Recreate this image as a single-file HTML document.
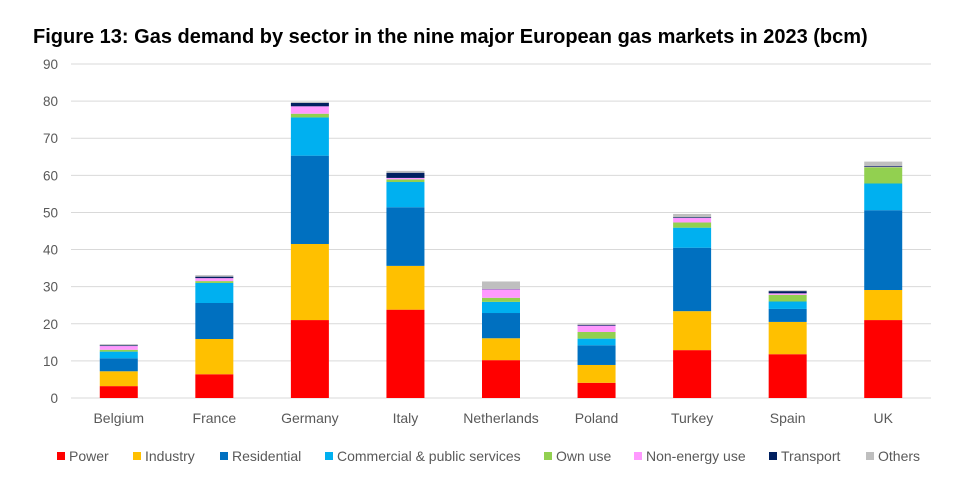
<!DOCTYPE html>
<html><head><meta charset="utf-8"><style>
body{margin:0;background:#fff;font-family:"Liberation Sans",sans-serif;}
#wrap{position:relative;width:970px;height:484px;overflow:hidden}
h1{position:absolute;left:33px;top:26px;margin:0;font-size:20px;font-weight:bold;color:#000}
</style></head><body><div id="wrap">
<h1>Figure 13: Gas demand by sector in the nine major European gas markets in 2023 (bcm)</h1>
<svg id="svg" width="970" height="484" style="position:absolute;left:0;top:0"></svg>
</div>
<script>
const categories=["Belgium","France","Germany","Italy","Netherlands","Poland","Turkey","Spain","UK"];
const seriesNames=["Power","Industry","Residential","Commercial & public services","Own use","Non-energy use","Transport","Others"];
const colors=["#ff0000","#ffc000","#0070c0","#00b0f0","#92d050","#ff99ff","#002060","#bfbfbf"];
const power=[3.2,6.4,21,23.8,10.2,4.1,12.9,11.8,21];
const industry=[4,9.5,20.5,11.8,5.9,4.8,10.5,8.7,8.1];
const residential=[3.5,9.7,23.8,15.8,6.8,5.3,17.1,3.5,21.5];
const commercial=[1.8,5.4,10.3,6.8,3,1.8,5.4,2,7.2];
const ownUse=[0.5,0.5,1,0.7,1.1,1.8,1.4,1.8,4.4];
const nonEnergy=[1,0.8,2,0.4,2.3,1.7,1.2,0.4,0.1];
const transport=[0.2,0.4,0.9,1.4,0.1,0.2,0.2,0.6,0.2];
const others=[0.3,0.4,0.3,0.5,2,0.4,0.9,0.2,1.2];
const yTicks=[0,10,20,30,40,50,60,70,80,90];
const series=[power,industry,residential,commercial,ownUse,nonEnergy,transport,others];
const NS="http://www.w3.org/2000/svg",svg=document.getElementById('svg');
const x0=71,x1=931,yBase=398,yTop=64,yMax=90;
const y=v=>yBase-(v/yMax)*(yBase-yTop);
const band=(x1-x0)/categories.length;
const xc=i=>x0+band*(i+0.5);
function mk(t,a){const e=document.createElementNS(NS,t);for(const k in a)e.setAttribute(k,a[k]);svg.appendChild(e);return e;}
yTicks.forEach(t=>{
 const g=mk('line',{x1:x0,x2:x1,y1:y(t),y2:y(t),stroke:'#d9d9d9','stroke-width':1});
 
 
 const l=mk('text',{x:58,y:y(t)+5,'text-anchor':'end','font-size':13.5,fill:'#595959','font-family':'Liberation Sans'});
 l.textContent=t;
 
 
});
categories.forEach((c,i)=>{
 let acc=0;
 series.forEach((s,j)=>{
  const v=s[i];
  const r=mk('rect',{x:xc(i)-19,width:38,y:y(acc+v),height:y(acc)-y(acc+v),fill:colors[j]});
  
  
  acc+=v;
 });
 const l=mk('text',{x:xc(i),y:423,'text-anchor':'middle','font-size':14,fill:'#595959','font-family':'Liberation Sans'});
 l.textContent=c;
 
 
});
const legX=[57,133,220,325,544,634,769,866];
seriesNames.forEach((n,j)=>{
 const r=mk('rect',{x:legX[j],y:452,width:8,height:8,fill:colors[j]});
 
 
 const t=mk('text',{x:legX[j]+12,y:461,'font-size':14,fill:'#595959','font-family':'Liberation Sans'});
 t.textContent=n;
 
 
});
</script></body></html>
